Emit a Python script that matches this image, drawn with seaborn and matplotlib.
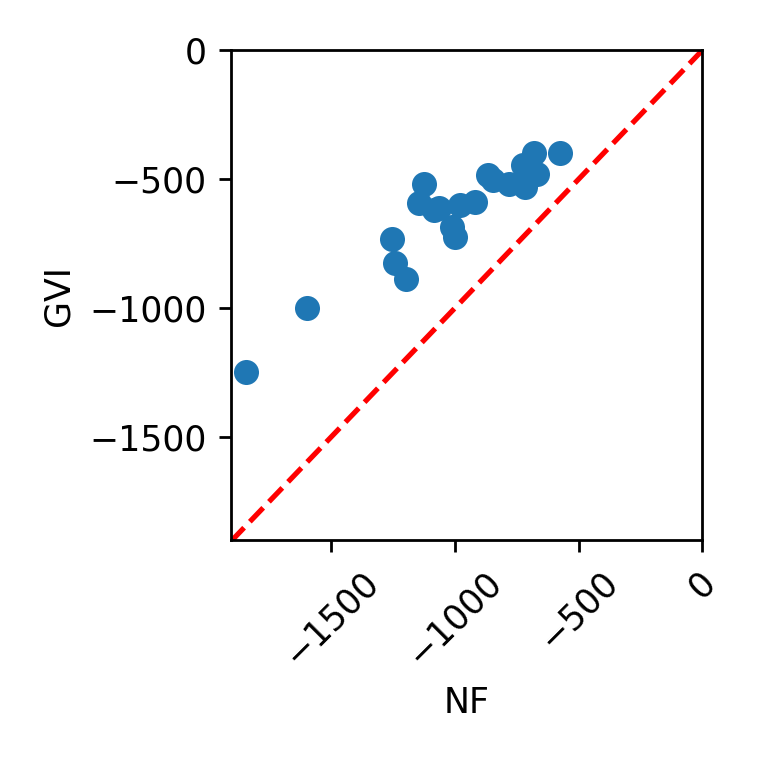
import numpy as np
import pandas as pd
import matplotlib
matplotlib.use("Agg")
import matplotlib.pyplot as plt
import seaborn as sns

# valores
nf = [-1842, -1596, -1253, -1241, -1196, -1125, -1146, -1086, -1062, -978,
      -918, -1012, -998, -864, -847, -783, -716, -723, -682, -668, -574]
gvi = [-1248, -1000, -733, -826, -888, -517, -594, -620, -612, -601,
       -588, -685, -724, -484, -505, -517, -530, -446, -400, -478, -400]

df = pd.DataFrame({"NF": nf, "GVI": gvi})

fig = plt.figure(figsize=(761 / 250, 761 / 250), dpi=250)
ax = fig.add_axes([0.3032, 0.290, 0.6198, 0.644])

sns.scatterplot(data=df, x="NF", y="GVI", color="#1f77b4", s=52,
                linewidth=0, ax=ax, zorder=3)

ax.plot([-1905, 0], [-1905, 0], color="red", linestyle="--", linewidth=1.5)

ax.set_xlim(-1905, 0)
ax.set_ylim(-1900, 0)
ax.set_xticks([-1500, -1000, -500, 0])
ax.set_yticks([-1500, -1000, -500, 0])
ax.tick_params(axis="x", rotation=45)
ax.set_xlabel("NF")
ax.set_ylabel("GVI")

fig.savefig("out.png", dpi=250)
